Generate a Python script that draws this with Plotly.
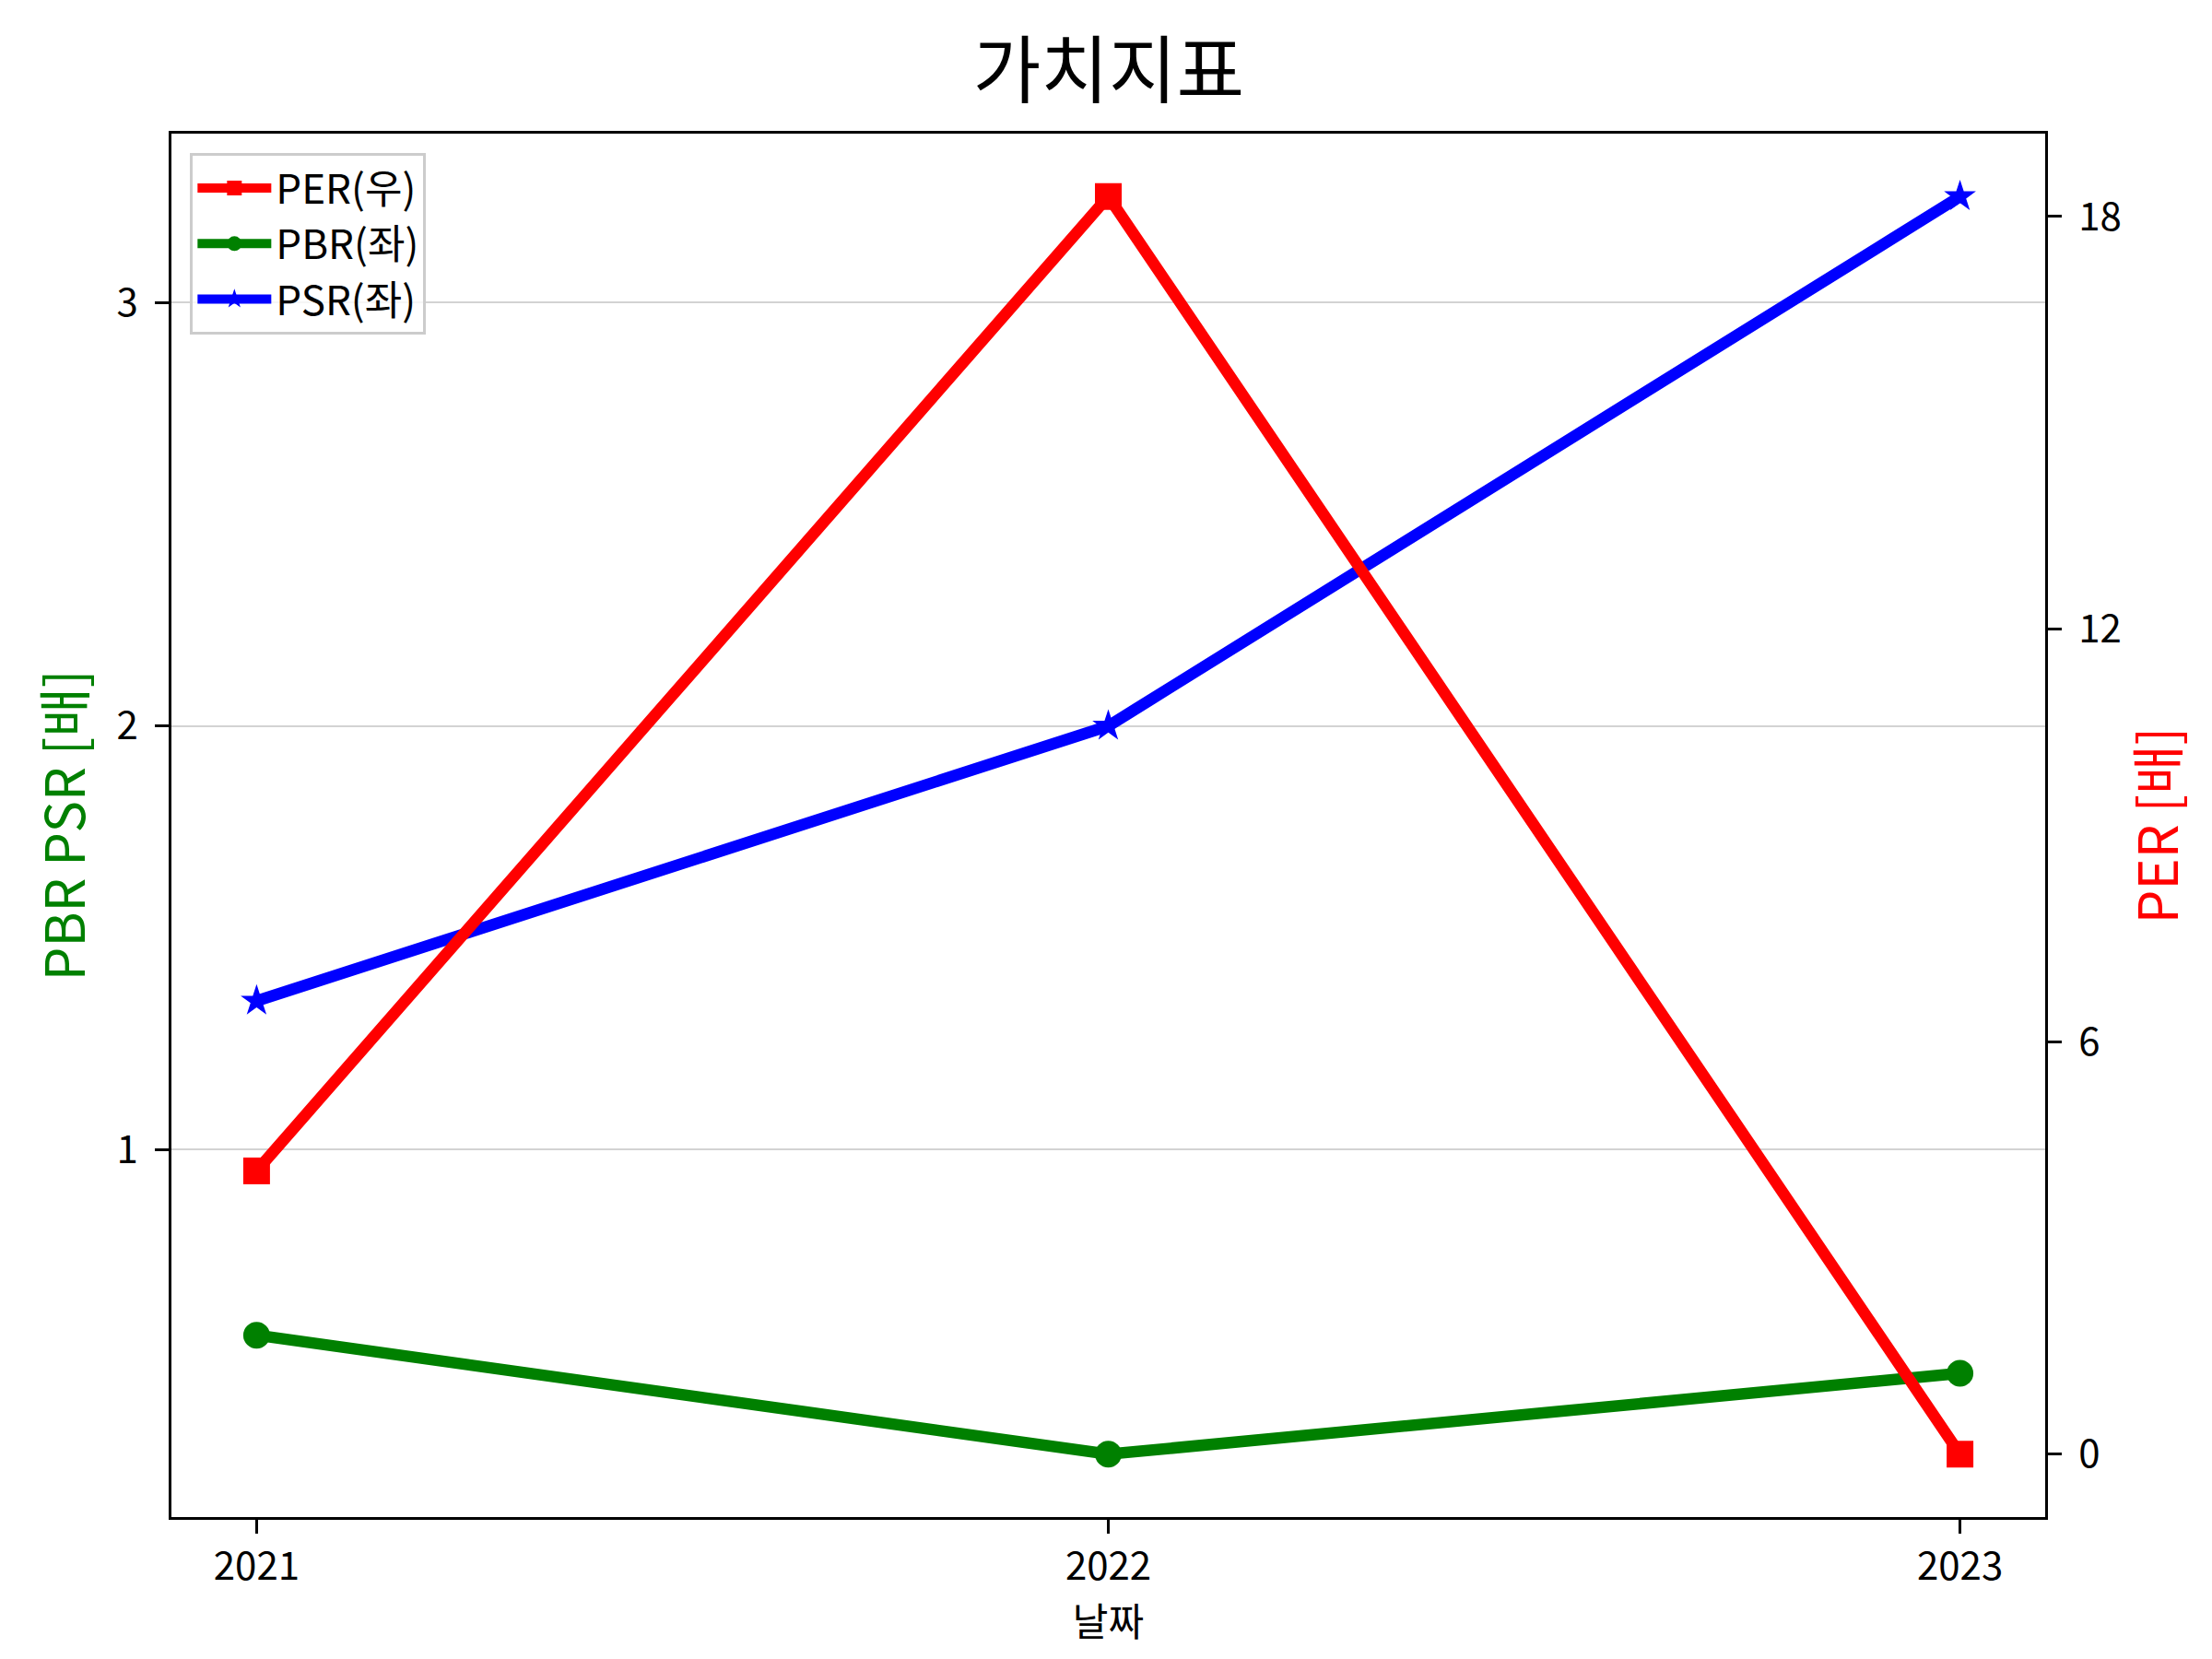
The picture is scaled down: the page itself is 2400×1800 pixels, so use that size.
import plotly.graph_objects as go

# 연도별 가치지표
years = [2021, 2022, 2023]
per = [4.12, 18.29, 0.0]
pbr = [0.562, 0.281, 0.472]
psr = [1.351, 2.0, 3.25]

left_ticks = [1, 2, 3]
right_ticks = [0, 6, 12, 18]

FONT = "Noto Sans CJK KR"

fig = go.Figure()

fig.add_trace(go.Scatter(
    x=years, y=pbr, name="PBR(좌)", mode="lines+markers",
    line=dict(color="green", width=12.5),
    marker=dict(symbol="circle", size=29, color="green"),
    legendrank=2,
))
fig.add_trace(go.Scatter(
    x=years, y=psr, name="PSR(좌)", mode="lines+markers",
    line=dict(color="blue", width=12.5),
    marker=dict(symbol="star", size=26, color="blue"),
    legendrank=3,
))
fig.add_trace(go.Scatter(
    x=years, y=per, name="PER(우)", mode="lines+markers", yaxis="y2",
    line=dict(color="red", width=12.5),
    marker=dict(symbol="square", size=29, color="red"),
    legendrank=1,
))

# 5% 여백 (matplotlib 기본값처럼)
def padded(lo, hi, m=0.05):
    d = (hi - lo) * m
    return [lo - d, hi + d]

lmin, lmax = min(pbr + psr), max(pbr + psr)
axis_common = dict(
    showline=True, linecolor="black", linewidth=3.3,
    ticks="outside", ticklen=14.6, tickwidth=3.3, tickcolor="black",
    tickfont=dict(family=FONT, size=42, color="black"),
    zeroline=False,
)

fig.update_layout(
    width=2400, height=1800,
    margin=dict(l=178, r=189, t=137, b=162),
    plot_bgcolor="white", paper_bgcolor="white",
    font=dict(family=FONT, color="black"),
    title=dict(
        text="가치지표", x=0.4979, xanchor="center",
        y=1 - 97 / 1800, yanchor="bottom", yref="container",
        font=dict(family=FONT, size=80, color="black"),
    ),
    xaxis=dict(
        **axis_common, mirror=True,
        range=padded(min(years), max(years)),
        tickvals=years, ticktext=[str(y) for y in years],
        showgrid=False,
        ticklabelstandoff=0,
        title=dict(text="날짜", font=dict(family=FONT, size=42, color="black"), standoff=0),
    ),
    yaxis=dict(
        **axis_common,
        range=padded(lmin, lmax),
        tickvals=left_ticks,
        showgrid=True, gridcolor="#d3d3d3", gridwidth=2,
        ticklabelstandoff=10,
        title=dict(text="PBR PSR [배]", font=dict(family=FONT, size=58, color="green"), standoff=16),
    ),
    yaxis2=dict(
        **axis_common,
        overlaying="y", side="right",
        range=padded(min(per), max(per)),
        tickvals=right_ticks,
        showgrid=False,
        ticklabelstandoff=10,
        title=dict(text="PER [배]", font=dict(family=FONT, size=58, color="red"), standoff=22),
    ),
    legend=dict(
        x=0.01, y=0.986, xanchor="left", yanchor="top",
        bgcolor="rgba(255,255,255,0.8)", bordercolor="#cccccc", borderwidth=3,
        font=dict(family=FONT, size=44, color="black"),
        itemwidth=80,
    ),
    showlegend=True,
)

fig.write_html("out.html")
